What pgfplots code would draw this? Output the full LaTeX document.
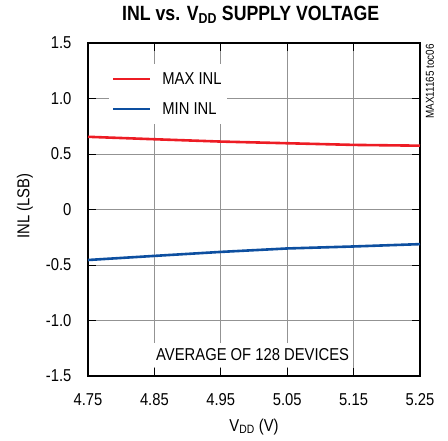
\documentclass[border=0pt]{standalone}
\usepackage{fontspec}
\setmainfont{Liberation Sans}[FakeStretch=0.86]
\usepackage{pgfplots}
\pgfplotsset{compat=1.18}
\definecolor{maxred}{HTML}{ED1C24}
\definecolor{minblue}{HTML}{0D4FA0}
\newcommand{\lab}{\fontsize{17.2}{18}\selectfont}
\begin{document}
\begin{tikzpicture}[x=1pt,y=1pt]
\path[use as bounding box] (0,0) rectangle (448,440);
\begin{axis}[
  at={(88pt,64pt)}, anchor=south west,
  scale only axis, width=332pt, height=333pt,
  clip=false,
  xmin=4.75, xmax=5.25, ymin=-1.5, ymax=1.5,
  xtick={4.75,4.85,4.95,5.05,5.15,5.25},
  xticklabels={4.75,4.85,4.95,5.05,5.15,5.25},
  ytick={-1.5,-1,-0.5,0,0.5,1,1.5},
  yticklabels={-1.5,-1.0,-0.5,0,0.5,1.0,1.5},
  grid=major,
  major grid style={color=gray!85, line width=0.9pt},
  axis line style={line width=2.4pt},
  tick align=inside, major tick length=8pt,
  tick style={black, line width=0.9pt},
  ticklabel style={font=\lab},
  /pgf/number format/assume math mode=true,
  xticklabel style={yshift=-14pt},
  yticklabel style={xshift=-13pt},
  xlabel={V\textsubscript{DD} (V)},
  ylabel={INL (LSB)},
  xlabel style={font=\lab, at={(axis description cs:0.5,-0.153)}, anchor=center},
  ylabel style={font=\lab, at={(axis description cs:-0.19,0.51)}, anchor=center},
  title={\textbf{INL vs. V\textsubscript{DD} SUPPLY VOLTAGE}},
  title style={font=\fontsize{20.6}{22}\selectfont, at={(axis description cs:0.49,1.051)}, anchor=base},
  legend style={at={(axis description cs:0.063,0.937)}, anchor=north west,
    draw=none, fill=white, font=\lab, row sep=13pt, inner xsep=3pt, inner ysep=6pt},
  legend cell align=left,
  legend image code/.code={\draw[#1, line width=2.6pt] (0pt,0pt) -- (37pt,0pt);
    \path[draw=none, fill=none] (0pt,0pt) rectangle (47pt,0.1pt);},
]
\addplot[color=maxred, line width=2.6pt] coordinates {
  (4.75,0.655) (4.85,0.633) (4.95,0.612) (5.05,0.597) (5.15,0.582) (5.25,0.575)};
\addlegendentry{MAX INL}
\addplot[color=minblue, line width=2.6pt] coordinates {
  (4.75,-0.455) (4.85,-0.418) (4.95,-0.382) (5.05,-0.351) (5.15,-0.333) (5.25,-0.312)};
\addlegendentry{MIN INL}
\node[fill=white, inner xsep=2pt, inner ysep=6pt, font=\lab] at (axis cs:4.998,-1.31) {AVERAGE OF 128 DEVICES};
\node[rotate=90, font=\fontsize{11.5}{12}\selectfont, anchor=center] at (axis description cs:1.03,0.885) {MAX11165 toc06};
\end{axis}
\end{tikzpicture}
\end{document}
